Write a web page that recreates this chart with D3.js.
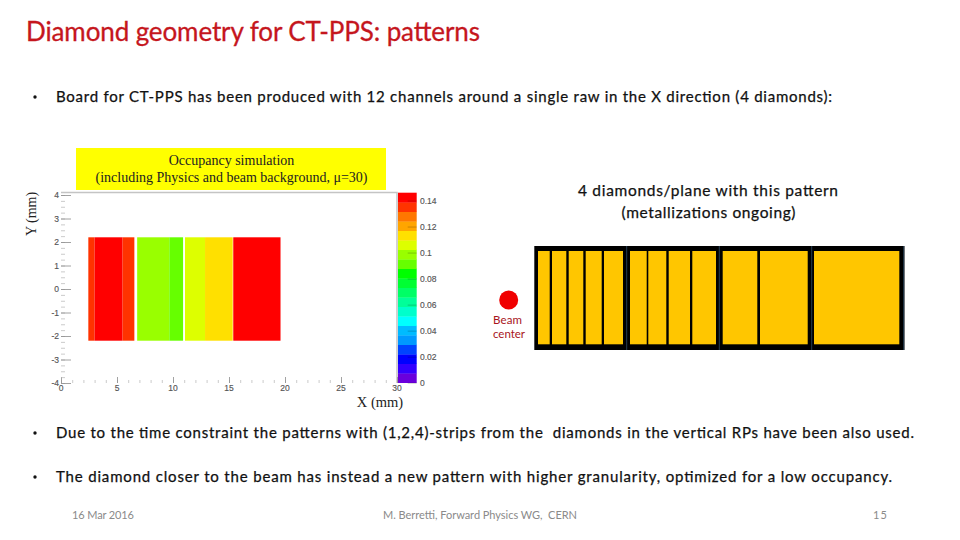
<!DOCTYPE html>
<html><head><meta charset="utf-8">
<script src="https://cdn.jsdelivr.net/npm/d3@7"></script>
<style>html,body{margin:0;padding:0;background:#fff}svg{display:block}</style>
</head><body><svg id="c" width="960" height="540"></svg>
<script>
// Occupancy map
const cellX0 = [2.44, 3.0, 5.5, 6.8, 9.67, 11.07, 12.86, 15.38];
const cellX1 = [3.0, 5.5, 6.55, 9.67, 10.9, 12.86, 15.33, 19.6];
const cellValue = [0.135, 0.143, 0.135, 0.098, 0.091, 0.106, 0.113, 0.143];
const cellY0 = -2.2, cellY1 = 2.2;
const xTicks = [0, 5, 10, 15, 20, 25, 30];
const yTicks = [-4, -3, -2, -1, 0, 1, 2, 3, 4];
const zTicks = [0, 0.02, 0.04, 0.06, 0.08, 0.1, 0.12, 0.14];
const zMax = 0.146;
const palette = ["#6a00dc","#3300ff","#0000ff","#0044ff","#0099ff","#00bbff","#00ffff","#00ffcc","#00ff99","#00ff66","#00ff33","#00ff00","#66ff00","#99ff00","#ddff00","#ffe000","#ffa500","#ff7700","#ff3300","#ff0000"];
// Strip pattern (edges in pattern units)
const stripStart = [3.7, 17.7, 34.4, 51.4, 69.7, 95.7, 114, 134.4, 158, 188.4, 225.7, 279.7];
const stripEnd = [15.4, 32, 49, 67.4, 88.7, 112.4, 132, 155.7, 181.7, 223, 273.4, 365];
const diamondEdges = [92.4, 185, 277.4, 369.4];
const patternLength = 370.2;
// Text
const titleText = "Diamond geometry for CT-PPS: patterns";
const bullets = ["Board for CT-PPS has been produced with 12 channels around a single raw in the X direction (4 diamonds):",
 "Due to the time constraint the patterns with (1,2,4)-strips from the  diamonds in the vertical RPs have been also used.",
 "The diamond closer to the beam has instead a new pattern with higher granularity, optimized for a low occupancy."];
const footer = ["16 Mar 2016", "M. Berretti, Forward Physics WG,  CERN", "15"];
const caption = ["4 diamonds/plane with this pattern", "(metallizations ongoing)"];
const beamLabel = ["Beam", "center"];

const svg = d3.select("#c");
const SANS = "Lato, 'Open Sans', sans-serif", SERIF = "'Liberation Serif', serif", AXIS = "'Liberation Sans',sans-serif";

function txt(t, x, y, size, fill, opt = {}) {
  const n = svg.append("text").attr("x", x).attr("y", y).attr("font-size", size).attr("fill", fill)
    .attr("font-family", opt.family || SANS).attr("text-anchor", opt.anchor || "start").attr("xml:space", "preserve").text(t);
  if (opt.len) n.attr("textLength", opt.len).attr("lengthAdjust", "spacing");
  if (opt.stroke) n.attr("stroke", fill).attr("stroke-width", opt.stroke);
  return n;
}

txt(titleText, 26, 41, 26, "#c5161d", {len: 454, stroke: .3});
const bulletY = [102, 438, 482], bulletLen = [776, 858, 836];
bullets.forEach((b, i) => {
  svg.append("circle").attr("cx", 35).attr("cy", bulletY[i] - 5).attr("r", 1.7).attr("fill", "#111");
  txt(b, 56, bulletY[i], 15, "#111", {len: bulletLen[i], stroke: .25});
});
txt(footer[0], 72, 519, 11, "#8a8a8a", {len: 62});
txt(footer[1], 383, 519, 11, "#8a8a8a", {len: 194});
txt(footer[2], 873, 519, 11, "#8a8a8a", {len: 14});

// Scales
const x = d3.scaleLinear().domain([0, 30]).range([61, 397]);
const y = d3.scaleLinear().domain([-4, 4]).range([383, 195]);
const z = d3.scaleLinear().domain([0, zMax]).range([382.7, 192.7]);
const colour = d3.scaleQuantize().domain([0, zMax]).range(palette);

// Frame
svg.append("path").attr("d", `M61,192.5H397V383`).attr("fill", "none").attr("stroke", "#c4c4c4").attr("stroke-width", 1.5);

// Cells
svg.append("g").selectAll("rect").data(cellValue).join("rect")
  .attr("x", (d, i) => x(cellX0[i])).attr("width", (d, i) => x(cellX1[i]) - x(cellX0[i]))
  .attr("y", y(cellY1)).attr("height", y(cellY0) - y(cellY1)).attr("fill", d => colour(d));

// Axes
const tickCol = "#8c8c8c";
const gx = svg.append("g").attr("transform", "translate(0,383)")
  .call(d3.axisTop(x).tickValues(d3.range(0, 30.01, 1)).tickFormat("").tickSize(3));
gx.selectAll("line").attr("stroke", "#b5b5b5").attr("stroke-width", .7);
gx.select(".domain").remove();
const gx2 = svg.append("g").attr("transform", "translate(0,383)")
  .call(d3.axisTop(x).tickValues(xTicks).tickFormat("").tickSize(6));
gx2.selectAll("line").attr("stroke", tickCol).attr("stroke-width", .8);
gx2.select(".domain").remove();
xTicks.forEach(t => txt(d3.format("d")(t), x(t), 391, 8.5, "#555", {anchor: "middle", family: AXIS, stroke: .15}));

const gy = svg.append("g").attr("transform", "translate(61,0)")
  .call(d3.axisRight(y).tickValues(d3.range(-4, 4.01, .25)).tickFormat("").tickSize(4));
gy.selectAll("line").attr("stroke", "#b5b5b5").attr("stroke-width", .7);
gy.select(".domain").remove();
const gy2 = svg.append("g").attr("transform", "translate(61,0)")
  .call(d3.axisRight(y).tickValues(yTicks).tickFormat("").tickSize(10));
gy2.selectAll("line").attr("stroke", tickCol).attr("stroke-width", .8);
gy2.select(".domain").remove();
yTicks.forEach(t => txt(d3.format("d")(t).replace("\u2212", "-"), 59, y(t) + 3, 8.5, "#555", {anchor: "end", family: AXIS, stroke: .15}));

// Colour bar
const band = zMax / palette.length;
svg.append("g").selectAll("rect").data(palette).join("rect")
  .attr("x", 398).attr("width", 18.7)
  .attr("y", (d, i) => z((i + 1) * band)).attr("height", (d, i) => z(i * band) - z((i + 1) * band) + .3)
  .attr("fill", d => d);
const gz = svg.append("g").attr("transform", "translate(416.7,0)")
  .call(d3.axisLeft(z).tickValues(zTicks).tickFormat("").tickSize(9));
gz.selectAll("line").attr("stroke", "#000").attr("stroke-opacity", .3).attr("stroke-width", .7);
gz.select(".domain").remove();
zTicks.forEach(t => txt(d3.format(".2~f")(t), 420, z(t) + 3, 8.5, "#555", {family: AXIS, stroke: .15}));

// Yellow label box
svg.append("rect").attr("x", 76).attr("y", 148).attr("width", 310).attr("height", 42).attr("fill", "#ffff00");
txt("Occupancy simulation", 231.5, 165, 14, "#222", {anchor: "middle", family: SERIF});
txt("(including Physics and beam background, \u03bc=30)", 231.5, 182, 14, "#222", {anchor: "middle", family: SERIF});

// Axis titles
txt("X (mm)", 380, 407, 14.5, "#222", {anchor: "middle", family: SERIF});
svg.append("text").attr("transform", "translate(36,214) rotate(-90)").attr("text-anchor", "middle")
  .attr("font-family", SERIF).attr("font-size", 14).attr("fill", "#222").text("Y (mm)");

// Caption
txt(caption[0], 578, 196, 15.5, "#111", {len: 260, stroke: .25});
txt(caption[1], 621.5, 218, 15.5, "#111", {len: 174, stroke: .25});

// Beam marker
svg.append("circle").attr("cx", 508.7).attr("cy", 300).attr("r", 9.5).attr("fill", "#f00000");
txt(beamLabel[0], 493, 324, 11.5, "#a8141c", {len: 29});
txt(beamLabel[1], 493, 338, 11.5, "#a8141c", {len: 32});

// Strip pattern
const px = d3.scaleLinear().domain([0, patternLength]).range([534.3, 904.5]);
svg.append("rect").attr("x", px(0)).attr("width", px(patternLength) - px(0)).attr("y", 246).attr("height", 104).attr("fill", "#000");
svg.append("g").selectAll("rect").data(stripStart).join("rect")
  .attr("x", d => px(d)).attr("width", (d, i) => px(stripEnd[i]) - px(d))
  .attr("y", 251).attr("height", 93.3).attr("fill", "#ffc600");
svg.append("g").selectAll("line").data(diamondEdges).join("line")
  .attr("x1", d => px(d)).attr("x2", d => px(d)).attr("y1", 246).attr("y2", 350)
  .attr("stroke", "#2f4c66").attr("stroke-width", .8);
</script></body></html>
